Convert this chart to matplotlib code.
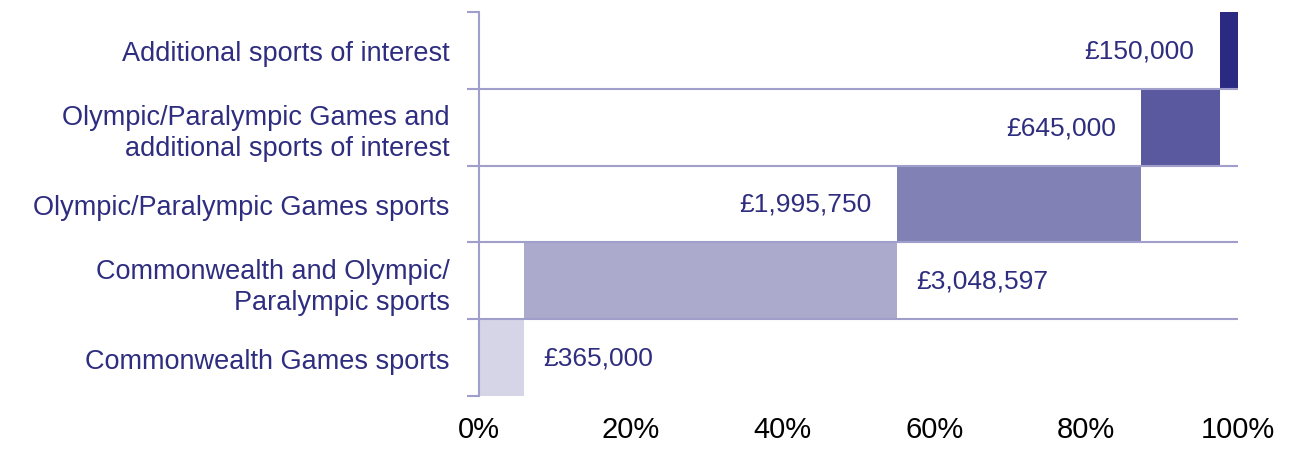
import numpy as np
import matplotlib.pyplot as plt
from matplotlib.ticker import FixedLocator

plt.rcParams['font.family'] = ['Liberation Sans', 'DejaVu Sans']

categories = ["Commonwealth Games sports",
              "Commonwealth and Olympic/\nParalympic sports",
              "Olympic/Paralympic Games sports",
              "Olympic/Paralympic Games and\nadditional sports of interest",
              "Additional sports of interest"]
amounts = np.array([365000, 3048597, 1995750, 645000, 150000])
labels = ["£365,000", "£3,048,597", "£1,995,750", "£645,000", "£150,000"]
colors = ["#d6d5e7", "#abaacd", "#8281b5", "#5a589e", "#2b2a82"]
label_side = ["right", "right", "left", "left", "left"]

text_col = "#2e2d7f"
line_col = "#a09ecb"

pct = amounts / amounts.sum() * 100
starts = np.concatenate([[0], np.cumsum(pct)[:-1]])
y = np.arange(len(categories))

fig = plt.figure(figsize=(13.15, 4.52), dpi=100)
ax = fig.add_axes([479/1315, 1 - 397/452, (1238 - 479)/1315, (397 - 13)/452])

ax.barh(y, pct, left=starts, height=1.0, color=colors, zorder=2)

for i in range(len(y)):
    if label_side[i] == "left":
        ax.text(starts[i] - 3.3, y[i], labels[i], ha="right", va="center",
                fontsize=19, color=text_col)
    else:
        ax.text(starts[i] + pct[i] + 2.6, y[i], labels[i], ha="left", va="center",
                fontsize=19, color=text_col)

# separators between rows
for b in y[:-1] + 0.5:
    ax.axhline(b, color=line_col, lw=1.5, zorder=3)

ax.set_xlim(0, 100)
ax.set_ylim(-0.5, len(y) - 0.5)
ax.set_xticks([0, 20, 40, 60, 80, 100])
ax.set_xticklabels(["0%", "20%", "40%", "60%", "80%", "100%"])
ax.tick_params(axis="x", length=0, pad=14, labelsize=21, labelcolor="black")

ax.set_yticks(y)
ax.set_yticklabels(categories, fontsize=19.5, color=text_col, linespacing=1.25)
ax.tick_params(axis="y", which="major", length=0, pad=21)
ax.yaxis.set_minor_locator(FixedLocator(np.arange(-0.5, len(y), 1.0)))
ax.tick_params(axis="y", which="minor", length=9, width=1.5, color=line_col)

for s in ["top", "right", "bottom"]:
    ax.spines[s].set_visible(False)
ax.spines["left"].set_color(line_col)
ax.spines["left"].set_linewidth(1.5)
ax.spines["left"].set_zorder(4)

fig.savefig("out.png", dpi=100)
